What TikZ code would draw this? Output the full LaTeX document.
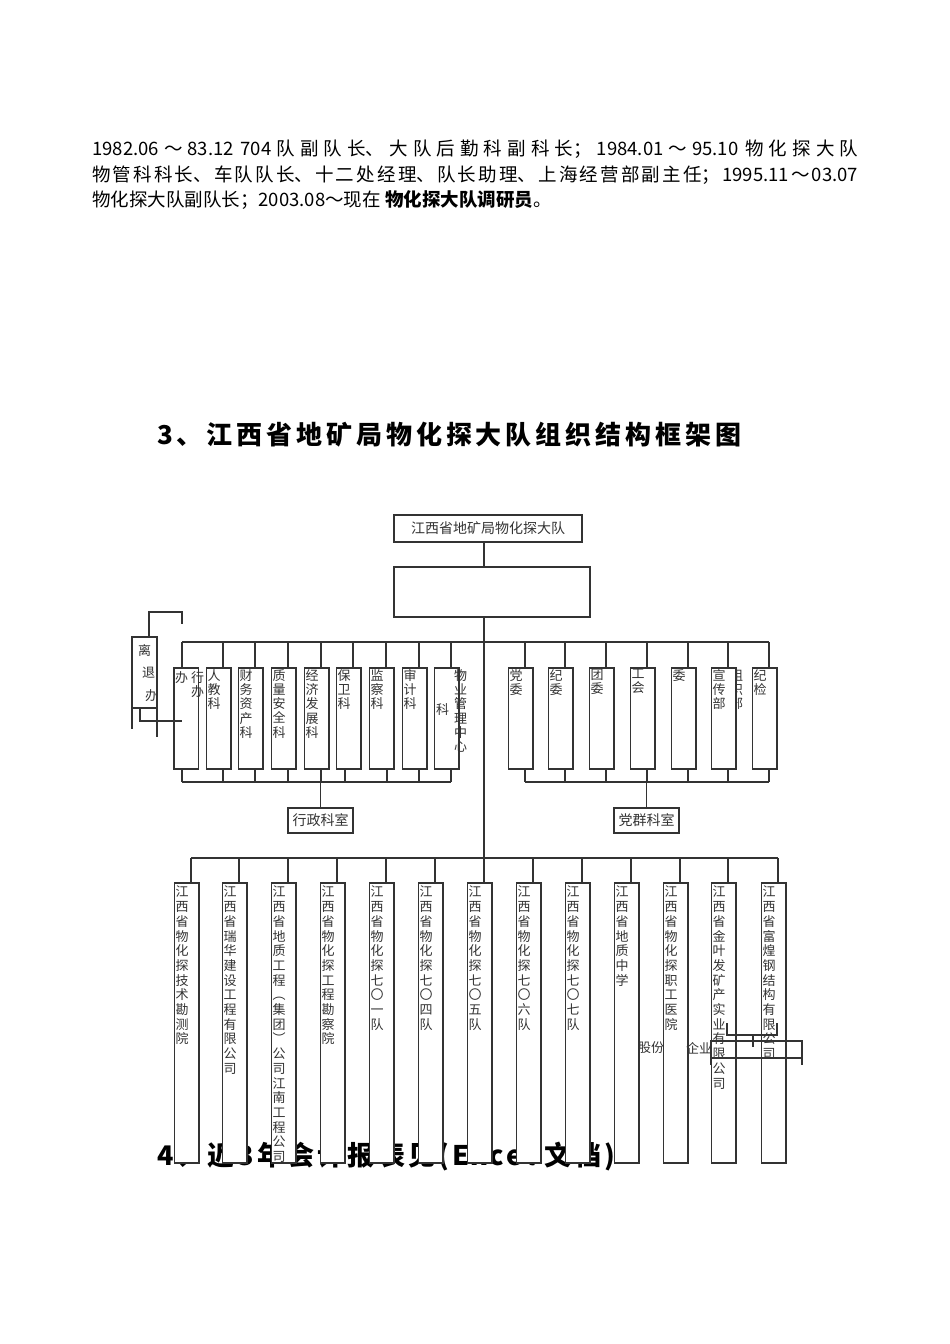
\documentclass[tikz,border=0pt]{standalone}
\usepackage{fontspec}
\setmainfont{Noto Sans CJK SC}
\usetikzlibrary{positioning}
\tikzset{%
  x=1pt,y=-1pt,
  link/.style={draw=black!80,line width=1.1pt},
  box/.style={draw=black!80,line width=1.1pt,fill=white,rectangle,inner sep=0pt,outer sep=0pt,anchor=north west},
  office/.style={box,minimum width=24.5pt,minimum height=101pt},
  unit/.style={box,minimum width=24.5pt,minimum height=280pt},
  room/.style={box,minimum width=65pt,minimum height=25pt,text=black!80,font=\fontsize{14}{16}\selectfont},
  vtxt/.style={inner sep=0pt,anchor=north west,align=left,text=black!80,font=\fontsize{13}{14.3}\selectfont},
  head/.style={inner sep=0pt,anchor=west}
}
% one character per line
\newcommand\vchars[1]{\vcharsfirst#1\relax}
\def\vcharsfirst#1{\ifx\relax#1\else#1\expandafter\vcharsloop\fi}
\def\vcharsloop#1{\ifx\relax#1\else\\#1\expandafter\vcharsloop\fi}
\newcommand\vcharsof[1]{\expandafter\vchars\expandafter{#1}}
\begin{document}
\begin{tikzpicture}
\useasboundingbox[fill=white] (0,0) rectangle (950,1344);
% resume lines
\node[anchor=north west,inner sep=0pt,text width=766pt,align=justify,
  font=\fontsize{18.5}{25.5}\selectfont] (resume) at (92,140)
  {\noindent\XeTeXlinebreaklocale "zh"\XeTeXlinebreakskip=0pt plus 4pt\relax
  1982.06～83.12 704队副队长、大队后勤科副科长；1984.01～95.10 物化探大队\linebreak
  物管科科长、车队队长、十二处经理、队长助理、上海经营部副主任；1995.11～03.07\linebreak
  物化探大队副队长；2003.08～现在 \textbf{物化探大队调研员}。};
\node[head,font=\fontsize{26}{30}\selectfont\bfseries\addfontfeature{LetterSpace=15}] (title) at (157,435)
  {3、江西省地矿局物化探大队组织结构框架图};
\node[head,font=\fontsize{27}{30}\selectfont\bfseries\addfontfeature{LetterSpace=12}] (excel) at (157,1157)
  {4、近3年会计报表见(Excel 文档)};
% head office
\node[box,minimum width=188pt,minimum height=27pt,text=black!80,font=\fontsize{14}{16}\selectfont] (hq) at (394,515) {江西省地矿局物化探大队};
\node[box,minimum width=196pt,minimum height=50pt] (lead) at (394,567) {};
\coordinate (axis) at (484,642);
\coordinate (subbus) at (484,782);
\coordinate (lowbus) at (484,858);
\draw[link] (hq.south -| axis) -- (lead.north -| axis);
\draw[link] (lead.south -| axis) -- (lowbus);
% administrative offices
\foreach \n/\bx/\dt/\db/\txt in {1/174/8/8/{},2/206.5/16.5/16.5/人教科,3/238.5/16.5/16.5/财务资产科,
    4/271.5/16.5/16.5/质量安全科,5/304.5/16.5/16.5/经济发展科,6/336.5/16.5/8.5/保卫科,
    7/369.5/16.5/17.5/监察科,8/402.5/16.5/16.5/审计科,9/434.5/16.5/16.5/{}}{
  \node[office] (L\n) at (\bx,668) {};
  \node[vtxt] (Lt\n) at (\bx+1,669) {\vcharsof{\txt}};
  \draw[link] ([xshift=\dt pt]L\n.north west) -- ([xshift=\dt pt]L\n.north west |- axis);
  \draw[link] ([xshift=\db pt]L\n.south west) -- ([xshift=\db pt]L\n.south west |- subbus);
}
\node[vtxt] (ban) at (175,671) {办};
\node[vtxt] (xingban) at (191,671) {\vchars{行办}};
\node[vtxt] (ke) at (436,703) {科};
\node[vtxt] (wuye) at (454,669) {\vchars{物业管理中心}};
% party offices
\node[vtxt] (zuzhi) at (730,669) {\vchars{组织部}};
\foreach \n/\bx/\txt in {1/508.5/党委,2/548.5/纪委,3/589.5/团委,4/630.5/工会,
    5/671.5/委,6/711.5/宣传部,7/752.5/纪检}{
  \node[office] (R\n) at (\bx,668) {};
  \node[vtxt] (Rt\n) at (\bx+1,669) {\vcharsof{\txt}};
  \draw[link] ([xshift=16.5pt]R\n.north west) -- ([xshift=16.5pt]R\n.north west |- axis);
  \draw[link] ([xshift=16.5pt]R\n.south west) -- ([xshift=16.5pt]R\n.south west |- subbus);
}
\draw[link] ([xshift=8pt]L1.north west |- axis) -- ([xshift=16.5pt]R7.north west |- axis);
\draw[link] ([xshift=8pt]L1.south west |- subbus) -- ([xshift=16.5pt]L9.south west |- subbus);
\draw[link] ([xshift=16.5pt]R1.south west |- subbus) -- ([xshift=16.5pt]R7.south west |- subbus);
\node[room] (xz) at (288,808) {行政科室};
\node[room] (dq) at (614,808) {党群科室};
\draw[link] (xz.north |- subbus) -- (xz.north);
\draw[link] (dq.north |- subbus) -- (dq.north);
% retirees
\node[box,minimum width=25pt,minimum height=71pt] (lt) at (132,637) {};
\node[vtxt,font=\fontsize{13}{22.5}\selectfont] (ltt) at (138,644) {离\\\hspace*{4pt}退\\\hspace*{7pt}办};
\coordinate (ltA) at (182,612);
\coordinate (ltB) at (182,624);
\coordinate (ltC) at (182,721);
\coordinate (ltD) at (132,729);
\coordinate (ltE) at (157,737);
\draw[link] ([xshift=4.5pt]lt.north) |- (ltA) -- (ltB);
\draw[link] ([xshift=-4.5pt]lt.south) |- (ltC);
\draw[link] (lt.south west) -- (ltD);
\draw[link] (lt.south east) -- (ltE);
% subordinate units
\foreach \n/\bx/\txt in {1/174.5/江西省物化探技术勘测院,2/222.5/江西省瑞华建设工程有限公司,
    3/271.5/江西省地质工程︵集团︶公司江南工程公司,4/320.5/江西省物化探工程勘察院,
    5/369.5/江西省物化探七〇一队,6/418.5/江西省物化探七〇四队,7/467.5/江西省物化探七〇五队,
    8/516.5/江西省物化探七〇六队,9/565.5/江西省物化探七〇七队,10/614.5/江西省地质中学,
    11/663.5/江西省物化探职工医院,12/711.5/江西省金叶发矿产实业有限公司,
    13/761.5/江西省富煌钢结构有限公司}{
  \node[unit] (B\n) at (\bx,883) {};
  \node[vtxt,font=\fontsize{13}{14.7}\selectfont] (Bt\n) at (\bx+1,886) {\vcharsof{\txt}};
  \draw[link] ([xshift=16.5pt]B\n.north west) -- ([xshift=16.5pt]B\n.north west |- lowbus);
}
\draw[link] ([xshift=16.5pt]B1.north west |- lowbus) -- ([xshift=16.5pt]B13.north west |- lowbus);
% shareholding marks
\node[vtxt,anchor=west] (gufen) at (638,1048) {股份};
\node[vtxt,anchor=west] (qiye) at (686,1048) {企业};
\node[draw=black!80,line width=1.1pt,inner sep=0pt,outer sep=0pt,anchor=north west,
  minimum width=91pt,minimum height=17pt] (gfbox) at (711,1041) {};
\coordinate (gfL) at (711,1065);
\coordinate (gfR) at (802,1065);
\draw[link] (gfbox.south west) -- (gfL);
\draw[link] (gfbox.south east) -- (gfR);
\coordinate (brA) at (727,1023);
\coordinate (brB) at (777,1023);
\coordinate (brM) at (753,1035);
\coordinate (brT) at (753,1047);
\draw[link] (brA) |- (brM) -| (brB);
\draw[link] (brM) -- (brT);
\end{tikzpicture}
\end{document}
